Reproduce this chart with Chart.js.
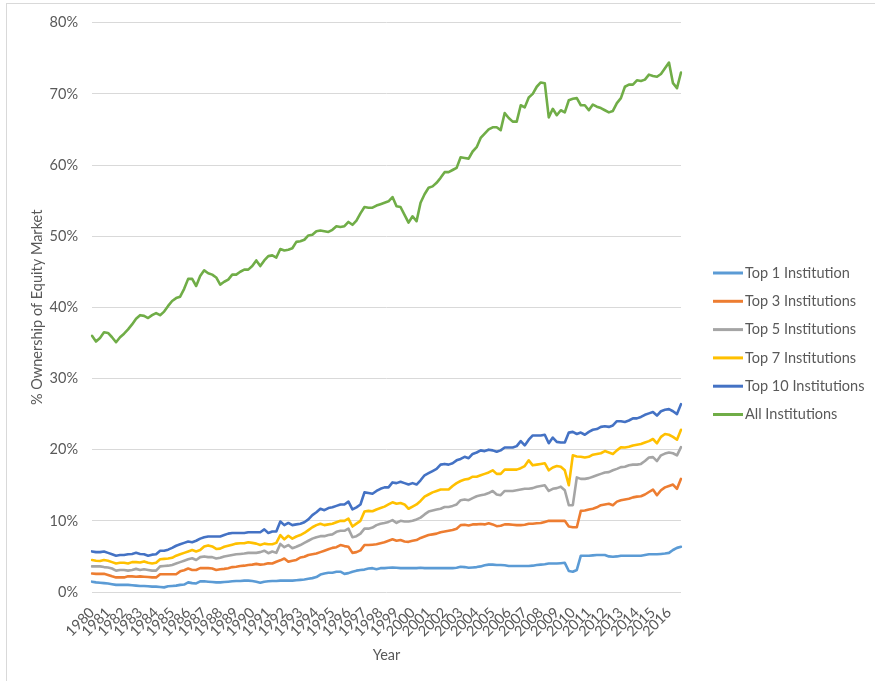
<!DOCTYPE html>
<html lang="en">
<head>
<meta charset="utf-8">
<title>% Ownership of Equity Market</title>
<script src="https://cdn.jsdelivr.net/npm/chart.js@4.4.1/dist/chart.umd.min.js"></script>
<style>
    html, body { margin: 0; padding: 0; background: #ffffff; overflow: hidden; }
    /* cadre gris clair autour du graphique (comme dans Excel) */
    #cadre { position: absolute; left: 6px; top: 3px; width: 900px; height: 700px; border: 1px solid #d9d9d9; }
    #chartPropriete { position: absolute; left: 0; top: 0; }
</style>
</head>
<body>
<div id="cadre"></div>
<canvas id="chartPropriete" width="875" height="681"></canvas>
<script>
// ============================================================
// Part du marché actions détenue par les institutions
// Données trimestrielles 1980–2016
// ============================================================

// === Étiquettes de l'axe X : une par année ===
const annees = [
    '1980', '1981', '1982', '1983', '1984', '1985', '1986', '1987', '1988', '1989',
    '1990', '1991', '1992', '1993', '1994', '1995', '1996', '1997', '1998', '1999',
    '2000', '2001', '2002', '2003', '2004', '2005', '2006', '2007', '2008', '2009',
    '2010', '2011', '2012', '2013', '2014', '2015', '2016'
];

// Graduations de l'axe Y (en %)
const graduationsY = [0, 10, 20, 30, 40, 50, 60, 70, 80];

// === Séries (en %, 4 trimestres par ligne, une ligne par année) ===
const top1 = [
    1.45, 1.35, 1.3, 1.25,    1.2, 1.1, 1.0, 1.0,       1.0, 1.0, 0.95, 0.9,
    0.85, 0.85, 0.8, 0.75,    0.75, 0.7, 0.65, 0.8,     0.85, 0.9, 1.0, 1.05,
    1.35, 1.25, 1.2, 1.5,     1.5, 1.45, 1.4, 1.35,     1.35, 1.4, 1.45, 1.5,
    1.55, 1.55, 1.6, 1.6,     1.55, 1.45, 1.3, 1.45,    1.5, 1.55, 1.55, 1.6,
    1.6, 1.6, 1.6, 1.65,      1.7, 1.75, 1.85, 1.95,    2.1, 2.45, 2.6, 2.7,
    2.7, 2.85, 2.85, 2.55,    2.65, 2.85, 3.0, 3.1,     3.15, 3.3, 3.35, 3.2,
    3.35, 3.35, 3.4, 3.45,    3.4, 3.35, 3.35, 3.35,    3.35, 3.35, 3.4, 3.35,
    3.35, 3.35, 3.35, 3.35,   3.35, 3.35, 3.35, 3.4,    3.55, 3.5, 3.4, 3.45,
    3.5, 3.6, 3.75, 3.85,     3.85, 3.8, 3.8, 3.75,     3.65, 3.65, 3.65, 3.65,
    3.65, 3.65, 3.7, 3.8,     3.85, 3.9, 4.0, 4.0,      4.0, 4.05, 4.1, 2.95,
    2.85, 3.1, 5.1, 5.1,      5.1, 5.15, 5.2, 5.2,      5.2, 5.0, 4.95, 5.0,
    5.1, 5.1, 5.1, 5.1,       5.1, 5.1, 5.2, 5.3,       5.3, 5.3, 5.35, 5.4,
    5.5, 5.9, 6.2, 6.35
];

const top3 = [
    2.6, 2.55, 2.55, 2.55,    2.4, 2.2, 2.05, 2.05,     2.05, 2.2, 2.2, 2.15,
    2.2, 2.15, 2.1, 2.05,     2.05, 2.5, 2.5, 2.5,      2.5, 2.5, 2.9, 3.05,
    3.3, 3.1, 3.1, 3.35,      3.35, 3.35, 3.3, 3.1,     3.2, 3.25, 3.35, 3.5,
    3.55, 3.65, 3.7, 3.8,     3.85, 3.95, 3.85, 3.9,    4.05, 4.0, 4.25, 4.45,
    4.7, 4.25, 4.4, 4.5,      4.85, 4.95, 5.2, 5.3,     5.4, 5.6, 5.8, 6.0,
    6.2, 6.3, 6.6, 6.45,      6.35, 5.5, 5.6, 5.85,     6.6, 6.6, 6.65, 6.7,
    6.85, 7.0, 7.2, 7.4,      7.2, 7.3, 7.1, 7.05,      7.2, 7.3, 7.6, 7.8,
    8.0, 8.1, 8.2, 8.4,       8.5, 8.6, 8.7, 8.9,       9.4, 9.45, 9.35, 9.5,
    9.5, 9.55, 9.5, 9.65,     9.5, 9.25, 9.3, 9.5,      9.5, 9.45, 9.4, 9.4,
    9.45, 9.6, 9.6, 9.65,     9.7, 9.85, 10.0, 10.0,    10.0, 10.0, 10.0, 9.2,
    9.1, 9.1, 11.4, 11.45,    11.6, 11.7, 11.9, 12.2,   12.3, 12.4, 12.2, 12.7,
    12.9, 13.0, 13.1, 13.3,   13.4, 13.45, 13.7, 14.05, 14.4, 13.6, 14.3, 14.7,
    14.9, 15.1, 14.5, 15.9
];

const top5 = [
    3.6, 3.6, 3.6, 3.5,       3.45, 3.3, 3.0, 3.1,      3.1, 3.0, 3.1, 3.25,
    3.1, 3.2, 3.1, 3.0,       3.0, 3.6, 3.65, 3.7,      3.8, 4.0, 4.2, 4.4,
    4.6, 4.75, 4.5, 4.9,      5.0, 4.9, 4.9, 4.7,       4.8, 5.0, 5.1, 5.2,
    5.3, 5.35, 5.4, 5.5,      5.5, 5.5, 5.6, 5.8,       5.45, 5.7, 5.5, 6.75,
    6.3, 6.6, 6.15, 6.35,     6.6, 6.9, 7.2, 7.5,       7.7, 7.85, 7.85, 8.0,
    8.1, 8.45, 8.6, 8.6,      8.9, 7.7, 7.85, 8.2,      8.9, 8.9, 9.05, 9.4,
    9.6, 9.7, 9.85, 10.1,     9.7, 10.0, 9.9, 9.9,      10.0, 10.2, 10.45, 10.9,
    11.3, 11.45, 11.6, 11.7,  11.95, 11.95, 12.1, 12.3, 12.9, 13.0, 12.9, 13.2,
    13.45, 13.6, 13.7, 13.9,  14.2, 13.7, 13.6, 14.2,   14.2, 14.2, 14.3, 14.4,
    14.5, 14.5, 14.6, 14.8,   14.9, 15.0, 14.2, 14.5,   14.6, 14.8, 14.3, 12.2,
    12.2, 16.1, 15.9, 15.9,   16.0, 16.2, 16.4, 16.6,   16.8, 16.85, 17.1, 17.3,
    17.55, 17.6, 17.8, 17.9,  17.9, 18.0, 18.4, 18.9,   18.95, 18.4, 19.2, 19.45,
    19.6, 19.5, 19.2, 20.35
];

const top7 = [
    4.5, 4.4, 4.35, 4.5,      4.4, 4.2, 4.0, 4.1,       4.1, 4.0, 4.2, 4.2,
    4.15, 4.3, 4.1, 4.0,      4.1, 4.6, 4.65, 4.7,      4.8, 5.1, 5.3, 5.5,
    5.7, 5.9, 5.7, 5.9,       6.4, 6.55, 6.4, 6.05,     6.1, 6.35, 6.5, 6.65,
    6.8, 6.85, 6.85, 7.0,     6.9, 6.8, 6.6, 6.8,       6.7, 6.7, 6.9, 8.0,
    7.4, 7.9, 7.5, 7.8,       8.0, 8.3, 8.7, 9.1,       9.4, 9.6, 9.4, 9.5,
    9.6, 9.8, 10.0, 10.0,     10.3, 9.2, 9.6, 10.0,     11.3, 11.4, 11.35, 11.6,
    11.8, 12.0, 12.3, 12.6,   12.4, 12.5, 12.3, 11.7,   12.0, 12.3, 12.8, 13.4,
    13.7, 14.0, 14.2, 14.4,   14.4, 14.4, 14.9, 15.3,   15.6, 15.8, 15.9, 16.2,
    16.2, 16.4, 16.6, 16.8,   17.1, 16.6, 16.6, 17.2,   17.2, 17.2, 17.2, 17.4,
    17.7, 18.5, 17.8, 17.9,   18.0, 18.1, 17.1, 17.5,   17.7, 17.6, 17.1, 15.0,
    19.2, 19.05, 19.0, 18.9,  19.0, 19.3, 19.4, 19.5,   19.8, 19.6, 19.4, 19.9,
    20.35, 20.3, 20.4, 20.6,  20.7, 20.8, 21.0, 21.2,   21.5, 20.9, 21.8, 22.2,
    22.1, 21.8, 21.4, 22.8
];

const top10 = [
    5.7, 5.6, 5.6, 5.7,       5.5, 5.3, 5.1, 5.2,       5.2, 5.3, 5.35, 5.5,
    5.35, 5.3, 5.1, 5.25,     5.3, 5.8, 5.8, 5.95,      6.2, 6.5, 6.7, 6.9,
    7.1, 7.0, 7.2, 7.5,       7.7, 7.8, 7.8, 7.8,       7.8, 8.0, 8.2, 8.3,
    8.3, 8.3, 8.3, 8.4,       8.4, 8.4, 8.4, 8.8,       8.3, 8.5, 8.5, 9.9,
    9.4, 9.7, 9.4, 9.5,       9.6, 9.8, 10.2, 10.8,     11.2, 11.7, 11.5, 11.8,
    11.9, 12.1, 12.3, 12.3,   12.7, 11.6, 11.9, 12.3,   14.0, 13.9, 13.8, 14.2,
    14.5, 14.7, 14.7, 15.4,   15.3, 15.5, 15.3, 15.1,   15.3, 15.1, 15.7, 16.4,
    16.7, 17.0, 17.3, 17.9,   18.0, 17.9, 18.1, 18.5,   18.7, 19.0, 18.8, 19.4,
    19.6, 19.9, 19.8, 20.0,   19.9, 19.7, 19.9, 20.3,   20.3, 20.3, 20.5, 21.2,
    20.6, 21.4, 22.0, 22.0,   22.0, 22.1, 20.9, 21.7,   21.1, 21.0, 21.0, 22.4,
    22.5, 22.2, 22.4, 22.1,   22.5, 22.8, 22.9, 23.2,   23.3, 23.2, 23.4, 24.0,
    24.0, 23.9, 24.1, 24.4,   24.4, 24.6, 24.9, 25.1,   25.3, 24.8, 25.4, 25.6,
    25.7, 25.4, 25.0, 26.4
];

const toutes = [
    36.0, 35.2, 35.7, 36.5,   36.4, 35.8, 35.1, 35.8,   36.3, 36.9, 37.6, 38.4,
    38.9, 38.8, 38.5, 38.9,   39.2, 38.9, 39.4, 40.2,   40.9, 41.3, 41.5, 42.6,
    44.0, 44.0, 43.0, 44.4,   45.2, 44.8, 44.6, 44.2,   43.2, 43.6, 43.9, 44.6,
    44.6, 45.0, 45.3, 45.3,   45.8, 46.6, 45.8, 46.6,   47.2, 47.3, 47.0, 48.2,
    48.0, 48.1, 48.3, 49.2,   49.3, 49.5, 50.1, 50.2,   50.7, 50.8, 50.7, 50.6,
    50.9, 51.4, 51.3, 51.4,   52.0, 51.6, 52.2, 53.2,   54.1, 54.0, 54.0, 54.3,
    54.5, 54.7, 54.9, 55.5,   54.2, 54.1, 53.0, 51.9,   52.8, 52.1, 54.7, 55.9,
    56.8, 57.0, 57.5, 58.2,   59.0, 59.0, 59.3, 59.6,   61.1, 61.0, 60.9, 61.9,
    62.5, 63.8, 64.4, 65.0,   65.3, 65.3, 64.9, 67.3,   66.6, 66.1, 66.1, 68.4,
    68.1, 69.5, 70.0, 71.0,   71.6, 71.5, 66.7, 67.9,   67.0, 67.7, 67.4, 69.1,
    69.3, 69.4, 68.4, 68.4,   67.7, 68.5, 68.2, 68.0,   67.7, 67.4, 67.6, 68.7,
    69.4, 71.0, 71.3, 71.3,   71.9, 71.8, 72.0, 72.7,   72.5, 72.4, 72.8, 73.6,
    74.4, 71.5, 70.8, 73.0
];

// Catégories : un point par trimestre (4 par année)
const trimestres = [];
annees.forEach(a => {
    ['T1', 'T2', 'T3', 'T4'].forEach(t => trimestres.push(a + ' ' + t));
});

const GRIS_TEXTE = '#595959';
const POLICE = 'Lato, "Open Sans", sans-serif';
const TAILLE = 14.5;

// === Légende à droite, dessinée à la main (espacement façon Excel) ===
const legendeDroite = {
    id: 'legendeDroite',
    afterDraw(chart) {
        const ctx = chart.ctx;
        const x0 = chart.chartArea.right + 32;
        ctx.save();
        ctx.font = TAILLE + 'px ' + POLICE;
        ctx.textBaseline = 'middle';
        ctx.textAlign = 'left';
        chart.data.datasets.forEach((ds, i) => {
            const y = 273 + i * 28.3;
            ctx.strokeStyle = ds.borderColor;
            ctx.lineWidth = 3;
            ctx.beginPath();
            ctx.moveTo(x0, y);
            ctx.lineTo(x0 + 30, y);
            ctx.stroke();
            ctx.fillStyle = GRIS_TEXTE;
            ctx.fillText(ds.label, x0 + 32, y);
        });
        ctx.restore();
    }
};

function serie(label, data, couleur) {
    return {
        label: label,
        data: data,
        borderColor: couleur,
        backgroundColor: couleur,
        borderWidth: 2.6,
        pointRadius: 0,
        tension: 0,
        fill: false,
        borderJoinStyle: 'round',
        borderCapStyle: 'round'
    };
}

document.addEventListener('DOMContentLoaded', function () {

    new Chart(document.getElementById('chartPropriete'), {
        type: 'line',
        data: {
            labels: trimestres,
            datasets: [
                serie('Top 1 Institution', top1, '#5B9BD5'),
                serie('Top 3 Institutions', top3, '#ED7D31'),
                serie('Top 5 Institutions', top5, '#A5A5A5'),
                serie('Top 7 Institutions', top7, '#FFC000'),
                serie('Top 10 Institutions', top10, '#4472C4'),
                serie('All Institutions', toutes, '#70AD47')
            ]
        },
        options: {
            responsive: false,
            animation: false,
            layout: { padding: { left: 0, right: 194, top: 21, bottom: 0 } },
            plugins: {
                legend: { display: false },
                tooltip: { enabled: false }
            },
            scales: {
                x: {
                    offset: false,
                    grid: { display: false },
                    border: { display: false },
                    ticks: {
                        autoSkip: false,
                        minRotation: 45,
                        maxRotation: 45,
                        padding: 4,
                        color: GRIS_TEXTE,
                        font: { family: POLICE, size: TAILLE },
                        // une étiquette par année, sur le premier trimestre
                        callback: function (val, index) {
                            return index % 4 === 0 ? annees[index / 4] : null;
                        }
                    },
                    title: {
                        display: true,
                        text: 'Year',
                        color: GRIS_TEXTE,
                        font: { family: POLICE, size: TAILLE },
                        padding: { top: 0, bottom: 17.3 }
                    },
                    afterFit: function (scale) { scale.height = 89; }
                },
                y: {
                    min: graduationsY[0],
                    max: graduationsY[graduationsY.length - 1],
                    afterBuildTicks: function (scale) {
                        scale.ticks = graduationsY.map(v => ({ value: v }));
                    },
                    grid: { color: '#d9d9d9', lineWidth: 1, drawTicks: false },
                    border: { display: false },
                    ticks: {
                        padding: 14,
                        color: GRIS_TEXTE,
                        font: { family: POLICE, size: TAILLE },
                        callback: function (v) { return v + '%'; }
                    },
                    title: {
                        display: true,
                        text: '% Ownership of Equity Market',
                        color: GRIS_TEXTE,
                        font: { family: POLICE, size: TAILLE },
                        padding: { top: 28.3, bottom: 0 }
                    },
                    afterFit: function (scale) { scale.width = 92; }
                }
            }
        },
        plugins: [legendeDroite]
    });

});
</script>
</body>
</html>
